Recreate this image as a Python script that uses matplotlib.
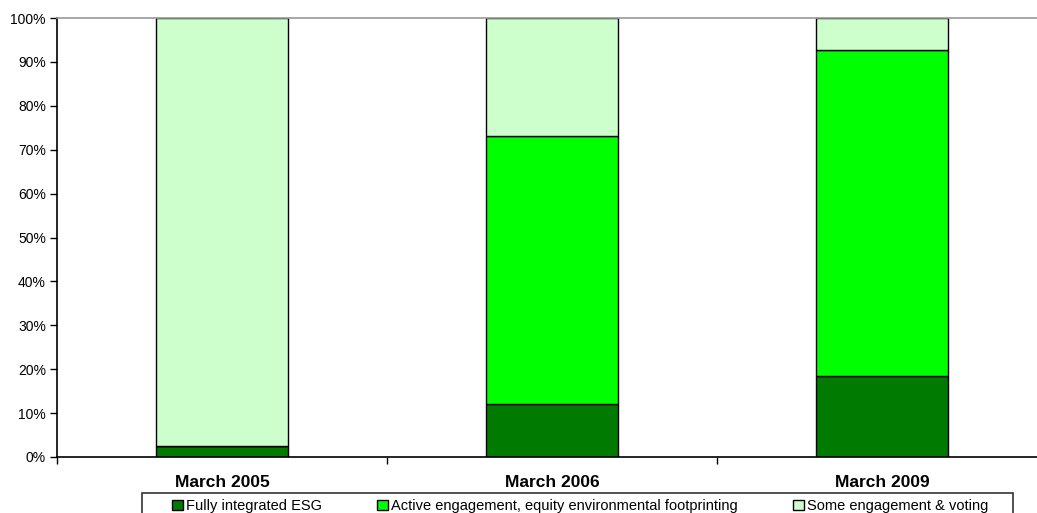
import matplotlib.pyplot as plt
import numpy as np
from matplotlib.patches import Rectangle
from matplotlib.ticker import FixedLocator, PercentFormatter

plt.rcParams['font.family'] = ['Liberation Sans', 'DejaVu Sans']

# share of assets by approach, in percent
periods = ['March 2005', 'March 2006', 'March 2009']
fully_integrated = [2.5, 12.1, 18.5]
active_engagement = [0.0, 61.1, 74.3]
some_engagement = [97.5, 26.8, 7.2]

series = [
    ('Fully integrated ESG', fully_integrated, '#007A00'),
    ('Active engagement, equity environmental footprinting', active_engagement, '#00FF00'),
    ('Some engagement & voting', some_engagement, '#CCFFCC'),
]

W, H = 1037, 513
fig = plt.figure(figsize=(W / 100, H / 100), dpi=100)
ax = fig.add_axes([57 / W, 1 - 457 / H, 990 / W, 439 / H])

x = np.arange(len(periods))
bottom = np.zeros(len(periods))
handles = []
for label, vals, color in series:
    vals = np.array(vals)
    b = ax.bar(x, vals, width=0.4, bottom=bottom, color=color,
               edgecolor='black', linewidth=1.0, label=label)
    handles.append(b)
    bottom += vals

ax.set_xlim(-0.5, len(periods) - 0.5)
ax.set_ylim(0, 100)
ax.set_yticks(np.arange(0, 101, 10))
ax.yaxis.set_major_formatter(PercentFormatter(decimals=0))
ax.tick_params(axis='y', labelsize=10, length=5, width=1, pad=3)

# category boundaries carry the tick marks, labels sit at bar centres
ax.xaxis.set_major_locator(FixedLocator(np.arange(len(periods) + 1) - 0.5))
ax.xaxis.set_minor_locator(FixedLocator(x))
ax.set_xticklabels([], minor=False)
ax.set_xticklabels(periods, minor=True, fontweight='bold', fontsize=12.5)
ax.tick_params(axis='x', which='major', length=5, width=1)
ax.tick_params(axis='x', which='minor', length=0, pad=13)

ax.spines['right'].set_visible(False)
ax.spines['top'].set_color('#999999')
ax.spines['top'].set_linewidth(1.2)
ax.spines['left'].set_linewidth(1.2)
ax.spines['bottom'].set_linewidth(1.2)

# legend box runs off the bottom edge
fig.patches.append(Rectangle((142 / W, -0.05), (1013 - 142) / W, 0.05 + 1 - 493 / H,
                             transform=fig.transFigure, fill=False,
                             edgecolor='#333333', linewidth=1.2))
leg = fig.legend(handles=handles, loc='upper left',
                 bbox_to_anchor=(172 / W, 1 - 499 / H), ncol=3,
                 fontsize=10.5, frameon=False,
                 handlelength=0.75, handleheight=0.75, handletextpad=0.2,
                 columnspacing=3.8, borderpad=0, borderaxespad=0)

fig.savefig('out.png', dpi=100)
